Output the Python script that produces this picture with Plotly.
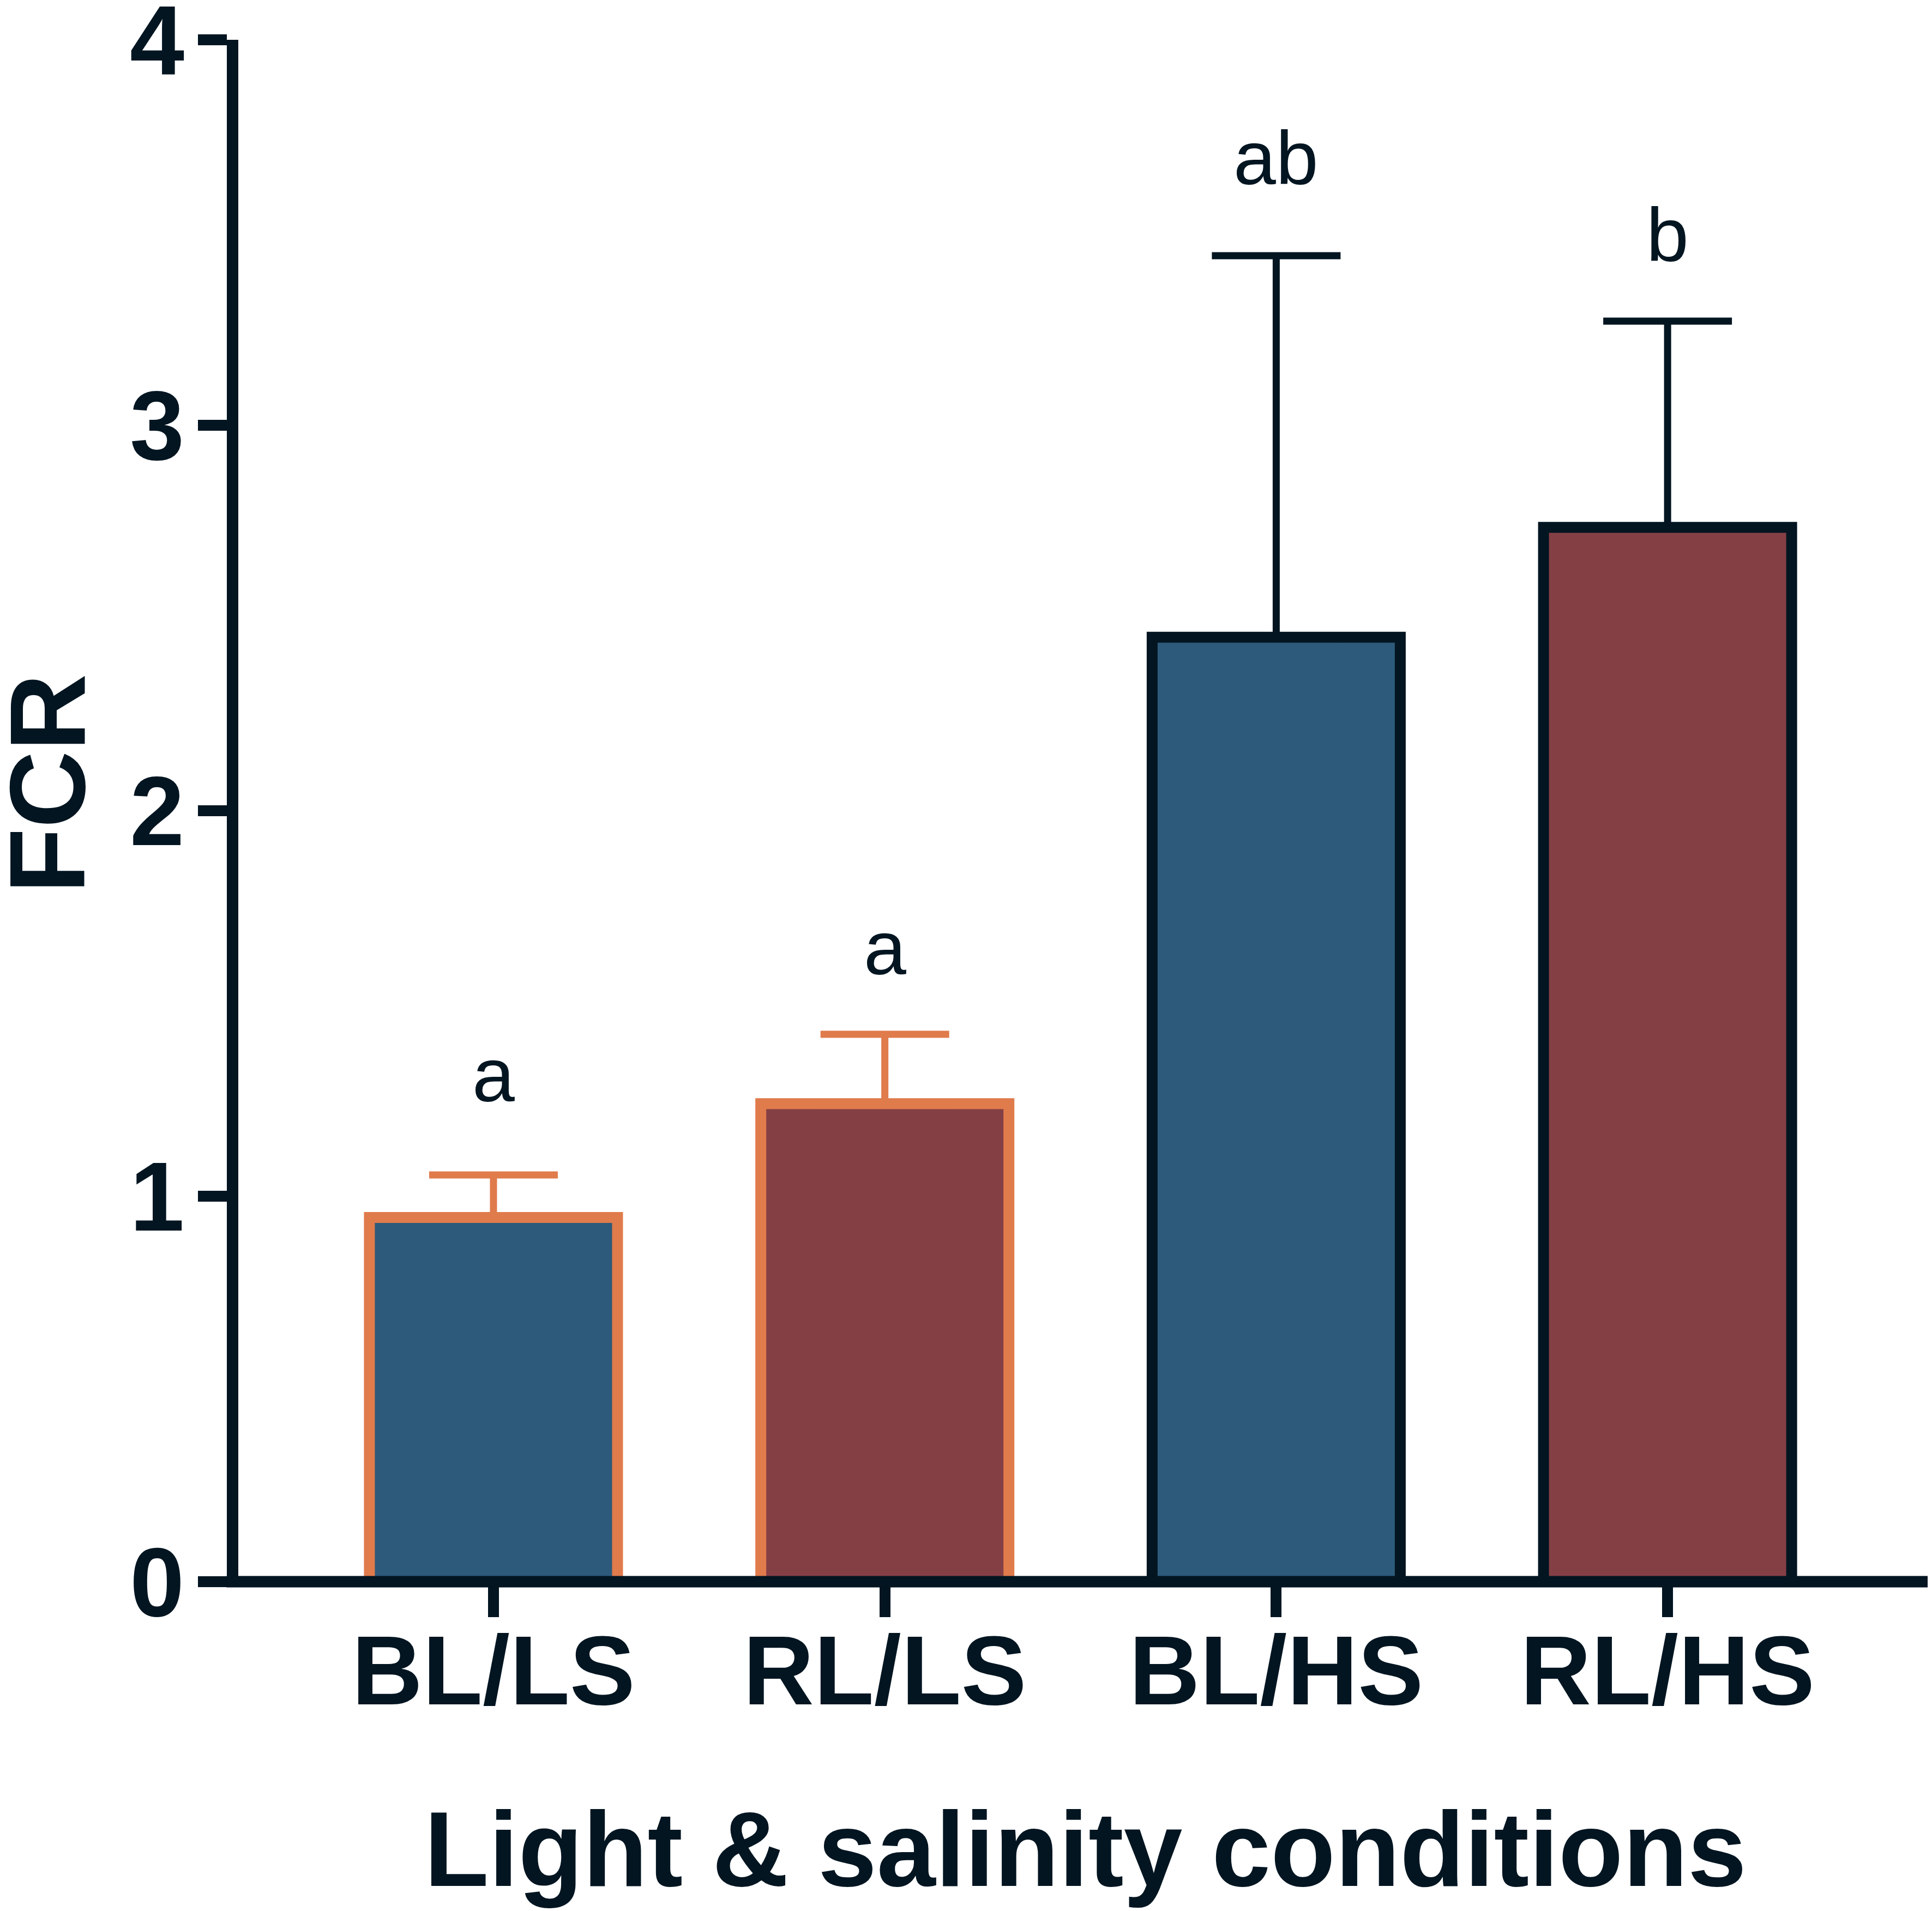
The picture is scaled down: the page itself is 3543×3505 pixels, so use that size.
import plotly.graph_objects as go

# data
groups = ["BL/LS", "RL/LS", "BL/HS", "RL/HS"]
fcr_mean = [0.945, 1.24, 2.45, 2.735]
fcr_err = [0.11, 0.18, 0.99, 0.535]
letters = ["a", "a", "ab", "b"]
letter_y = [1.315, 1.644, 3.694, 3.494]
y_ticks = [0, 1, 2, 3, 4]

DARK = "#021521"
ORANGE = "#e07b4c"
BLUE = "#2d5a7b"
RED = "#843f45"
FONT = "Liberation Sans"

fills = [BLUE, RED, BLUE, RED]
edges = [ORANGE, ORANGE, DARK, DARK]

fig = go.Figure()

# one trace per salinity level so each gets its own error bar colour
for idx, col in [([0, 1], ORANGE), ([2, 3], DARK)]:
    fig.add_trace(go.Bar(
        x=[groups[i] for i in idx],
        y=[fcr_mean[i] for i in idx],
        width=0.634,
        marker=dict(color=[fills[i] for i in idx],
                    line=dict(color=[edges[i] for i in idx], width=20)),
        error_y=dict(type="data", symmetric=False,
                     array=[fcr_err[i] for i in idx],
                     arrayminus=[0 for i in idx],
                     color=col, thickness=13, width=118),
        showlegend=False,
    ))

for g, t, yy in zip(groups, letters, letter_y):
    fig.add_annotation(x=g, y=yy, text=t, showarrow=False, yanchor="middle",
                       font=dict(family=FONT, size=140, color=DARK))

# y axis title
fig.add_annotation(xref="paper", yref="paper", x=-0.1125, y=0.5177,
                   text="FCR", textangle=-90, showarrow=False,
                   xanchor="center", yanchor="middle",
                   font=dict(family=FONT, size=196, color=DARK, weight="bold"))

# x axis line centred on y = 0, drawn over the bar bottoms
fig.add_shape(type="line", xref="paper", yref="paper", x0=-0.007, x1=1, y0=0, y1=0,
              line=dict(color=DARK, width=21), layer="above")

fig.update_layout(
    width=3543, height=3505,
    margin=dict(l=429, r=7, t=65, b=612),
    plot_bgcolor="white", paper_bgcolor="white",
    barmode="overlay",
    xaxis=dict(
        categoryorder="array", categoryarray=groups,
        range=[-0.652, 3.677], automargin=False,
        showline=False, showgrid=False, zeroline=False,
        ticks="outside", ticklen=64, tickwidth=20, tickcolor=DARK,
        ticklabelstandoff=-56,
        tickfont=dict(family=FONT, size=180, color=DARK, weight="bold"),
        title=dict(text="Light & salinity conditions", standoff=160,
                   font=dict(family=FONT, size=194, color=DARK, weight="bold")),
    ),
    yaxis=dict(
        range=[0, 4], tickvals=y_ticks, automargin=False,
        showline=True, linewidth=21, linecolor=DARK,
        showgrid=False, zeroline=False,
        ticks="outside", ticklen=53, tickwidth=20, tickcolor=DARK,
        ticklabelstandoff=-11, ticklabeloverflow="allow",
        tickfont=dict(family=FONT, size=180, color=DARK, weight="bold"),
    ),
)

fig.write_html("out.html")
